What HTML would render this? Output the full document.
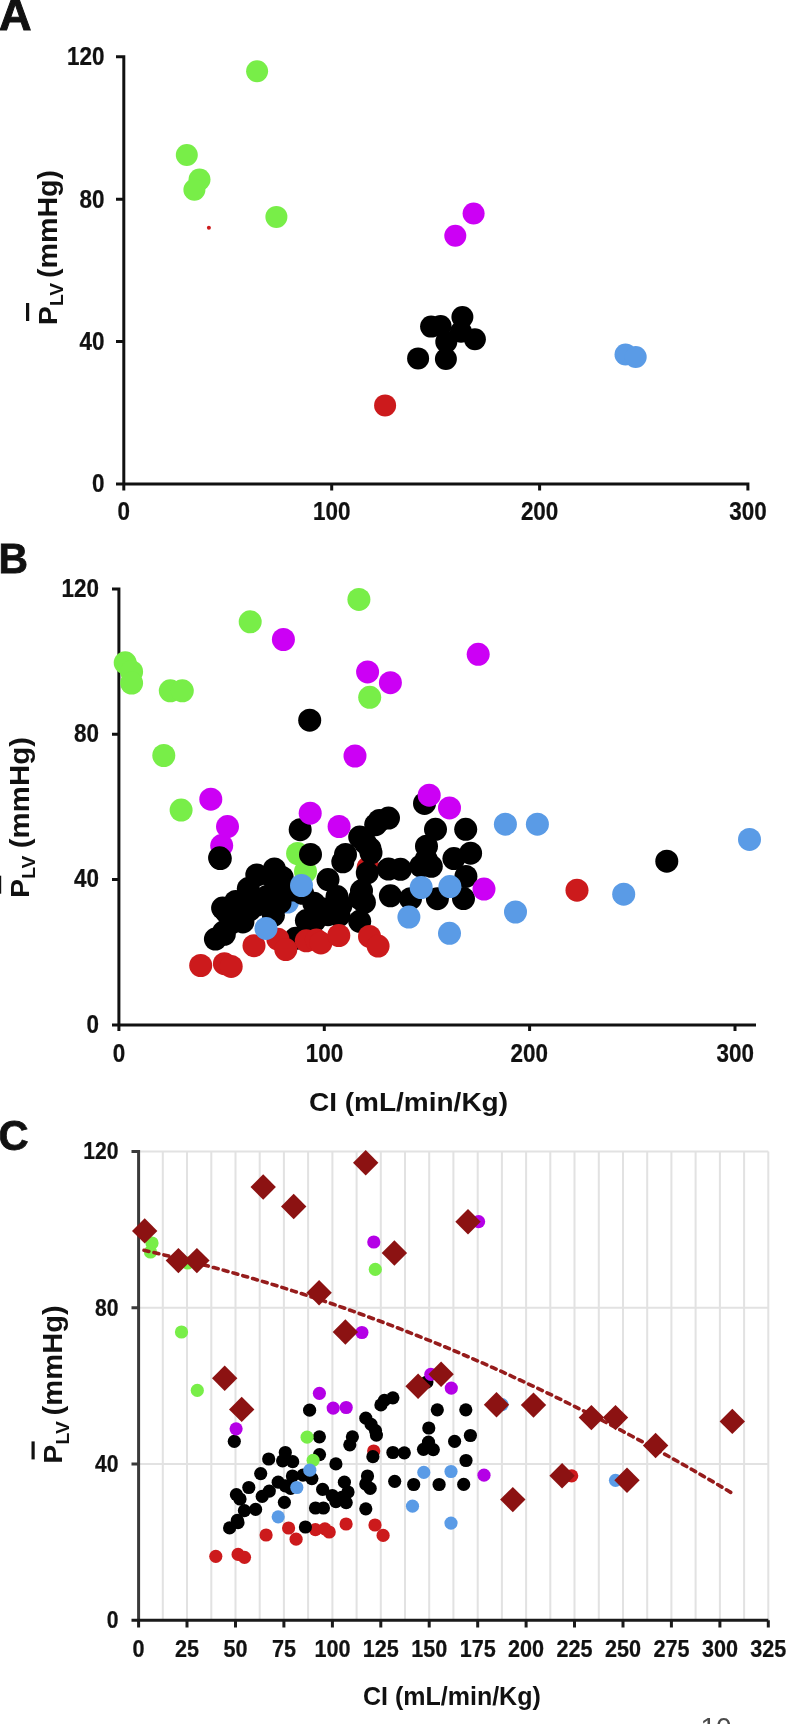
<!DOCTYPE html>
<html><head><meta charset="utf-8"><style>
html,body{margin:0;padding:0;background:#fff;}
svg{display:block;filter:blur(0.45px);}
text{font-family:"Liberation Sans",sans-serif;font-weight:bold;fill:#111;}
</style></head><body>
<svg width="788" height="1724" viewBox="0 0 788 1724">
<rect width="788" height="1724" fill="#fff"/>
<text transform="translate(-1.0,30.3) scale(1.0,1.0)" font-size="45" text-anchor="start" stroke="#111" stroke-width="1">A</text>
<path d="M116,56.8 H123.8 V484 H747.9 V490.5 M123.8,484 V490.5 M331.7,484 V490.5 M539.6,484 V490.5 M116,199.2 H123.8 M116,341.6 H123.8 M116,484 H123.8" stroke="#111" stroke-width="3" fill="none"/>
<text transform="translate(104.5,65.1) scale(0.88,1.0)" font-size="25.5" text-anchor="end" stroke="#111" stroke-width="0.25">120</text>
<text transform="translate(104.5,207.5) scale(0.88,1.0)" font-size="25.5" text-anchor="end" stroke="#111" stroke-width="0.25">80</text>
<text transform="translate(104.5,349.9) scale(0.88,1.0)" font-size="25.5" text-anchor="end" stroke="#111" stroke-width="0.25">40</text>
<text transform="translate(104.5,492.3) scale(0.88,1.0)" font-size="25.5" text-anchor="end" stroke="#111" stroke-width="0.25">0</text>
<text transform="translate(123.8,520.0) scale(0.88,1.0)" font-size="25.5" text-anchor="middle" stroke="#111" stroke-width="0.25">0</text>
<text transform="translate(331.7,520.0) scale(0.88,1.0)" font-size="25.5" text-anchor="middle" stroke="#111" stroke-width="0.25">100</text>
<text transform="translate(539.6,520.0) scale(0.88,1.0)" font-size="25.5" text-anchor="middle" stroke="#111" stroke-width="0.25">200</text>
<text transform="translate(747.9,520.0) scale(0.88,1.0)" font-size="25.5" text-anchor="middle" stroke="#111" stroke-width="0.25">300</text>
<circle cx="257.1" cy="71.2" r="11" fill="rgb(120,238,72)"/>
<circle cx="186.8" cy="155.0" r="11" fill="rgb(120,238,72)"/>
<circle cx="199.5" cy="179.6" r="11" fill="rgb(120,238,72)"/>
<circle cx="194.4" cy="189.7" r="11" fill="rgb(120,238,72)"/>
<circle cx="276.4" cy="216.9" r="11" fill="rgb(120,238,72)"/>
<circle cx="473.6" cy="213.5" r="11" fill="rgb(204,0,245)"/>
<circle cx="455.3" cy="235.8" r="11" fill="rgb(204,0,245)"/>
<circle cx="418.1" cy="358.4" r="11" fill="#000"/>
<circle cx="445.9" cy="359.0" r="11" fill="#000"/>
<circle cx="431.1" cy="326.6" r="11" fill="#000"/>
<circle cx="440.6" cy="326.0" r="11" fill="#000"/>
<circle cx="446.3" cy="341.9" r="11" fill="#000"/>
<circle cx="462.4" cy="317.1" r="11" fill="#000"/>
<circle cx="461.0" cy="331.7" r="11" fill="#000"/>
<circle cx="474.9" cy="339.3" r="11" fill="#000"/>
<circle cx="625.5" cy="354.5" r="11" fill="rgb(90,155,230)"/>
<circle cx="635.7" cy="357.0" r="11" fill="rgb(90,155,230)"/>
<circle cx="385.1" cy="405.4" r="11" fill="rgb(204,26,28)"/>
<circle cx="208.9" cy="227.8" r="2" fill="rgb(204,26,28)"/>
<text transform="translate(-1.5,572.8) scale(0.95,1.0)" font-size="43" text-anchor="start" stroke="#111" stroke-width="0.8">B</text>
<path d="M112,589 H118.9 V1025 H756 M118.9,1025 V1031 M324.3,1025 V1031 M529.6,1025 V1031 M735,1025 V1031 M112,734.3 H118.9 M112,879.6 H118.9 M112,1025 H118.9" stroke="#111" stroke-width="3" fill="none"/>
<text transform="translate(99.0,596.8) scale(0.88,1.0)" font-size="25.5" text-anchor="end" stroke="#111" stroke-width="0.25">120</text>
<text transform="translate(99.0,742.1) scale(0.88,1.0)" font-size="25.5" text-anchor="end" stroke="#111" stroke-width="0.25">80</text>
<text transform="translate(99.0,887.4) scale(0.88,1.0)" font-size="25.5" text-anchor="end" stroke="#111" stroke-width="0.25">40</text>
<text transform="translate(99.0,1032.8) scale(0.88,1.0)" font-size="25.5" text-anchor="end" stroke="#111" stroke-width="0.25">0</text>
<text transform="translate(119.1,1062.0) scale(0.88,1.0)" font-size="25.5" text-anchor="middle" stroke="#111" stroke-width="0.25">0</text>
<text transform="translate(324.5,1062.0) scale(0.88,1.0)" font-size="25.5" text-anchor="middle" stroke="#111" stroke-width="0.25">100</text>
<text transform="translate(529.3,1062.0) scale(0.88,1.0)" font-size="25.5" text-anchor="middle" stroke="#111" stroke-width="0.25">200</text>
<text transform="translate(735.3,1062.0) scale(0.88,1.0)" font-size="25.5" text-anchor="middle" stroke="#111" stroke-width="0.25">300</text>
<text transform="translate(309.0,1110.7) scale(1.12,1.0)" font-size="25" text-anchor="start" >CI (mL/min/Kg)</text>
<circle cx="221.7" cy="845.6" r="11.5" fill="rgb(204,0,245)"/>
<circle cx="368.1" cy="867.6" r="11.5" fill="rgb(204,26,28)"/>
<circle cx="125.2" cy="662.8" r="11.5" fill="rgb(120,238,72)"/>
<circle cx="131.6" cy="671.7" r="11.5" fill="rgb(120,238,72)"/>
<circle cx="131.6" cy="683.1" r="11.5" fill="rgb(120,238,72)"/>
<circle cx="170.3" cy="690.8" r="11.5" fill="rgb(120,238,72)"/>
<circle cx="182.3" cy="690.8" r="11.5" fill="rgb(120,238,72)"/>
<circle cx="250.2" cy="621.8" r="11.5" fill="rgb(120,238,72)"/>
<circle cx="358.9" cy="599.4" r="11.5" fill="rgb(120,238,72)"/>
<circle cx="369.7" cy="697.3" r="11.5" fill="rgb(120,238,72)"/>
<circle cx="163.8" cy="755.5" r="11.5" fill="rgb(120,238,72)"/>
<circle cx="181.1" cy="810.1" r="11.5" fill="rgb(120,238,72)"/>
<circle cx="297.6" cy="853.5" r="11.5" fill="rgb(120,238,72)"/>
<circle cx="305.5" cy="871.5" r="11.5" fill="rgb(120,238,72)"/>
<circle cx="287.5" cy="902.0" r="11.5" fill="rgb(90,155,230)"/>
<circle cx="300.2" cy="829.7" r="11.5" fill="#000"/>
<circle cx="220.3" cy="858.6" r="11.5" fill="#000"/>
<circle cx="310.5" cy="854.4" r="11.5" fill="#000"/>
<circle cx="256.8" cy="875.0" r="11.5" fill="#000"/>
<circle cx="274.4" cy="869.0" r="11.5" fill="#000"/>
<circle cx="271.5" cy="876.7" r="11.5" fill="#000"/>
<circle cx="282.2" cy="877.5" r="11.5" fill="#000"/>
<circle cx="328.0" cy="879.6" r="11.5" fill="#000"/>
<circle cx="248.3" cy="888.6" r="11.5" fill="#000"/>
<circle cx="235.7" cy="901.5" r="11.5" fill="#000"/>
<circle cx="222.6" cy="908.1" r="11.5" fill="#000"/>
<circle cx="226.4" cy="912.2" r="11.5" fill="#000"/>
<circle cx="231.0" cy="923.0" r="11.5" fill="#000"/>
<circle cx="223.5" cy="932.1" r="11.5" fill="#000"/>
<circle cx="215.4" cy="939.1" r="11.5" fill="#000"/>
<circle cx="224.3" cy="934.3" r="11.5" fill="#000"/>
<circle cx="242.9" cy="921.9" r="11.5" fill="#000"/>
<circle cx="249.9" cy="909.8" r="11.5" fill="#000"/>
<circle cx="257.4" cy="904.9" r="11.5" fill="#000"/>
<circle cx="266.9" cy="896.6" r="11.5" fill="#000"/>
<circle cx="274.4" cy="899.9" r="11.5" fill="#000"/>
<circle cx="273.4" cy="915.3" r="11.5" fill="#000"/>
<circle cx="281.9" cy="890.8" r="11.5" fill="#000"/>
<circle cx="280.0" cy="902.4" r="11.5" fill="#000"/>
<circle cx="302.6" cy="893.3" r="11.5" fill="#000"/>
<circle cx="293.2" cy="890.0" r="11.5" fill="#000"/>
<circle cx="313.9" cy="903.2" r="11.5" fill="#000"/>
<circle cx="306.4" cy="920.6" r="11.5" fill="#000"/>
<circle cx="314.8" cy="920.6" r="11.5" fill="#000"/>
<circle cx="324.2" cy="909.0" r="11.5" fill="#000"/>
<circle cx="328.0" cy="914.7" r="11.5" fill="#000"/>
<circle cx="295.7" cy="938.3" r="11.5" fill="#000"/>
<circle cx="375.7" cy="824.7" r="11.5" fill="#000"/>
<circle cx="379.4" cy="820.5" r="11.5" fill="#000"/>
<circle cx="388.5" cy="818.1" r="11.5" fill="#000"/>
<circle cx="359.7" cy="837.1" r="11.5" fill="#000"/>
<circle cx="365.3" cy="842.9" r="11.5" fill="#000"/>
<circle cx="370.0" cy="848.6" r="11.5" fill="#000"/>
<circle cx="371.0" cy="852.8" r="11.5" fill="#000"/>
<circle cx="345.5" cy="854.4" r="11.5" fill="#000"/>
<circle cx="342.8" cy="861.8" r="11.5" fill="#000"/>
<circle cx="367.3" cy="872.9" r="11.5" fill="#000"/>
<circle cx="388.5" cy="869.0" r="11.5" fill="#000"/>
<circle cx="400.5" cy="869.3" r="11.5" fill="#000"/>
<circle cx="426.5" cy="846.2" r="11.5" fill="#000"/>
<circle cx="426.2" cy="859.4" r="11.5" fill="#000"/>
<circle cx="420.9" cy="866.0" r="11.5" fill="#000"/>
<circle cx="431.3" cy="866.3" r="11.5" fill="#000"/>
<circle cx="435.5" cy="829.3" r="11.5" fill="#000"/>
<circle cx="465.7" cy="829.3" r="11.5" fill="#000"/>
<circle cx="453.9" cy="858.6" r="11.5" fill="#000"/>
<circle cx="470.6" cy="853.2" r="11.5" fill="#000"/>
<circle cx="465.9" cy="876.4" r="11.5" fill="#000"/>
<circle cx="463.5" cy="898.6" r="11.5" fill="#000"/>
<circle cx="424.5" cy="803.4" r="11.5" fill="#000"/>
<circle cx="337.0" cy="896.6" r="11.5" fill="#000"/>
<circle cx="340.9" cy="905.7" r="11.5" fill="#000"/>
<circle cx="339.0" cy="915.6" r="11.5" fill="#000"/>
<circle cx="334.3" cy="910.6" r="11.5" fill="#000"/>
<circle cx="361.5" cy="890.8" r="11.5" fill="#000"/>
<circle cx="359.7" cy="898.3" r="11.5" fill="#000"/>
<circle cx="364.4" cy="902.4" r="11.5" fill="#000"/>
<circle cx="359.7" cy="921.3" r="11.5" fill="#000"/>
<circle cx="390.4" cy="895.8" r="11.5" fill="#000"/>
<circle cx="410.5" cy="898.7" r="11.5" fill="#000"/>
<circle cx="437.4" cy="898.7" r="11.5" fill="#000"/>
<circle cx="309.7" cy="720.2" r="11.5" fill="#000"/>
<circle cx="219.6" cy="857.8" r="11.5" fill="#000"/>
<circle cx="666.8" cy="861.2" r="11.5" fill="#000"/>
<circle cx="254.0" cy="945.7" r="11.5" fill="rgb(204,26,28)"/>
<circle cx="277.9" cy="939.2" r="11.5" fill="rgb(204,26,28)"/>
<circle cx="285.8" cy="949.6" r="11.5" fill="rgb(204,26,28)"/>
<circle cx="306.3" cy="940.8" r="11.5" fill="rgb(204,26,28)"/>
<circle cx="316.4" cy="939.9" r="11.5" fill="rgb(204,26,28)"/>
<circle cx="320.9" cy="942.9" r="11.5" fill="rgb(204,26,28)"/>
<circle cx="200.7" cy="965.5" r="11.5" fill="rgb(204,26,28)"/>
<circle cx="224.4" cy="963.7" r="11.5" fill="rgb(204,26,28)"/>
<circle cx="231.2" cy="966.4" r="11.5" fill="rgb(204,26,28)"/>
<circle cx="338.8" cy="935.5" r="11.5" fill="rgb(204,26,28)"/>
<circle cx="369.5" cy="936.4" r="11.5" fill="rgb(204,26,28)"/>
<circle cx="378.1" cy="946.1" r="11.5" fill="rgb(204,26,28)"/>
<circle cx="577.0" cy="890.2" r="11.5" fill="rgb(204,26,28)"/>
<circle cx="283.4" cy="639.5" r="11.5" fill="rgb(204,0,245)"/>
<circle cx="367.6" cy="671.9" r="11.5" fill="rgb(204,0,245)"/>
<circle cx="390.4" cy="682.7" r="11.5" fill="rgb(204,0,245)"/>
<circle cx="355.0" cy="756.0" r="11.5" fill="rgb(204,0,245)"/>
<circle cx="210.8" cy="799.2" r="11.5" fill="rgb(204,0,245)"/>
<circle cx="227.5" cy="826.6" r="11.5" fill="rgb(204,0,245)"/>
<circle cx="310.2" cy="813.2" r="11.5" fill="rgb(204,0,245)"/>
<circle cx="339.1" cy="826.5" r="11.5" fill="rgb(204,0,245)"/>
<circle cx="429.2" cy="795.2" r="11.5" fill="rgb(204,0,245)"/>
<circle cx="449.5" cy="807.9" r="11.5" fill="rgb(204,0,245)"/>
<circle cx="484.0" cy="889.1" r="11.5" fill="rgb(204,0,245)"/>
<circle cx="478.2" cy="654.3" r="11.5" fill="rgb(204,0,245)"/>
<circle cx="505.4" cy="824.2" r="11.5" fill="rgb(90,155,230)"/>
<circle cx="537.4" cy="824.2" r="11.5" fill="rgb(90,155,230)"/>
<circle cx="749.5" cy="839.4" r="11.5" fill="rgb(90,155,230)"/>
<circle cx="623.7" cy="894.2" r="11.5" fill="rgb(90,155,230)"/>
<circle cx="515.5" cy="912.0" r="11.5" fill="rgb(90,155,230)"/>
<circle cx="449.5" cy="933.3" r="11.5" fill="rgb(90,155,230)"/>
<circle cx="408.9" cy="917.1" r="11.5" fill="rgb(90,155,230)"/>
<circle cx="266.0" cy="928.4" r="11.5" fill="rgb(90,155,230)"/>
<circle cx="421.2" cy="887.5" r="11.5" fill="rgb(90,155,230)"/>
<circle cx="449.9" cy="886.6" r="11.5" fill="rgb(90,155,230)"/>
<circle cx="301.5" cy="885.5" r="11.5" fill="rgb(90,155,230)"/>
<text transform="translate(-1.5,1150.0) scale(0.97,1.0)" font-size="43" text-anchor="start" stroke="#111" stroke-width="0.8">C</text>
<path d="M162.8,1151.4 V1620.3 M187.0,1151.4 V1620.3 M211.3,1151.4 V1620.3 M235.5,1151.4 V1620.3 M259.7,1151.4 V1620.3 M283.9,1151.4 V1620.3 M308.1,1151.4 V1620.3 M332.4,1151.4 V1620.3 M356.6,1151.4 V1620.3 M380.8,1151.4 V1620.3 M405.0,1151.4 V1620.3 M429.2,1151.4 V1620.3 M453.4,1151.4 V1620.3 M477.7,1151.4 V1620.3 M501.9,1151.4 V1620.3 M526.1,1151.4 V1620.3 M550.3,1151.4 V1620.3 M574.5,1151.4 V1620.3 M598.8,1151.4 V1620.3 M623.0,1151.4 V1620.3 M647.2,1151.4 V1620.3 M671.4,1151.4 V1620.3 M695.6,1151.4 V1620.3 M719.9,1151.4 V1620.3 M744.1,1151.4 V1620.3 M768.3,1151.4 V1620.3 M138.6,1151.4 H768.3 M138.6,1307.7 H768.3 M138.6,1464.0 H768.3" stroke="#e2e2e2" stroke-width="2" fill="none"/>
<path d="M131.5,1151.4 H138.6 V1620.3 M131.5,1307.7 H138.6 M131.5,1464 H138.6" stroke="#3a3a3a" stroke-width="3" fill="none"/>
<path d="M131.5,1620.3 H768.3 M138.6,1620.3 V1627.4 M187.0,1620.3 V1627.4 M235.5,1620.3 V1627.4 M283.9,1620.3 V1627.4 M332.4,1620.3 V1627.4 M380.8,1620.3 V1627.4 M429.2,1620.3 V1627.4 M477.7,1620.3 V1627.4 M526.1,1620.3 V1627.4 M574.5,1620.3 V1627.4 M623.0,1620.3 V1627.4 M671.4,1620.3 V1627.4 M719.9,1620.3 V1627.4 M768.3,1620.3 V1627.4" stroke="#1a1a1a" stroke-width="3" fill="none"/>
<text transform="translate(118.5,1159.2) scale(0.88,1.0)" font-size="24" text-anchor="end" stroke="#111" stroke-width="0.25">120</text>
<text transform="translate(118.5,1315.5) scale(0.88,1.0)" font-size="24" text-anchor="end" stroke="#111" stroke-width="0.25">80</text>
<text transform="translate(118.5,1471.8) scale(0.88,1.0)" font-size="24" text-anchor="end" stroke="#111" stroke-width="0.25">40</text>
<text transform="translate(118.5,1628.1) scale(0.88,1.0)" font-size="24" text-anchor="end" stroke="#111" stroke-width="0.25">0</text>
<text transform="translate(138.6,1657.0) scale(0.9,1.0)" font-size="24" text-anchor="middle" stroke="#111" stroke-width="0.25">0</text>
<text transform="translate(187.0,1657.0) scale(0.9,1.0)" font-size="24" text-anchor="middle" stroke="#111" stroke-width="0.25">25</text>
<text transform="translate(235.5,1657.0) scale(0.9,1.0)" font-size="24" text-anchor="middle" stroke="#111" stroke-width="0.25">50</text>
<text transform="translate(283.9,1657.0) scale(0.9,1.0)" font-size="24" text-anchor="middle" stroke="#111" stroke-width="0.25">75</text>
<text transform="translate(332.4,1657.0) scale(0.9,1.0)" font-size="24" text-anchor="middle" stroke="#111" stroke-width="0.25">100</text>
<text transform="translate(380.8,1657.0) scale(0.9,1.0)" font-size="24" text-anchor="middle" stroke="#111" stroke-width="0.25">125</text>
<text transform="translate(429.2,1657.0) scale(0.9,1.0)" font-size="24" text-anchor="middle" stroke="#111" stroke-width="0.25">150</text>
<text transform="translate(477.7,1657.0) scale(0.9,1.0)" font-size="24" text-anchor="middle" stroke="#111" stroke-width="0.25">175</text>
<text transform="translate(526.1,1657.0) scale(0.9,1.0)" font-size="24" text-anchor="middle" stroke="#111" stroke-width="0.25">200</text>
<text transform="translate(574.5,1657.0) scale(0.9,1.0)" font-size="24" text-anchor="middle" stroke="#111" stroke-width="0.25">225</text>
<text transform="translate(623.0,1657.0) scale(0.9,1.0)" font-size="24" text-anchor="middle" stroke="#111" stroke-width="0.25">250</text>
<text transform="translate(671.4,1657.0) scale(0.9,1.0)" font-size="24" text-anchor="middle" stroke="#111" stroke-width="0.25">275</text>
<text transform="translate(719.9,1657.0) scale(0.9,1.0)" font-size="24" text-anchor="middle" stroke="#111" stroke-width="0.25">300</text>
<text transform="translate(768.3,1657.0) scale(0.9,1.0)" font-size="24" text-anchor="middle" stroke="#111" stroke-width="0.25">325</text>
<text transform="translate(363.0,1705.0) scale(1.0,1.0)" font-size="25" text-anchor="start" >CI (mL/min/Kg)</text>
<circle cx="373.7" cy="1451.0" r="6.6" fill="rgb(204,26,28)"/>
<circle cx="571.7" cy="1475.8" r="6.6" fill="rgb(204,26,28)"/>
<circle cx="266.1" cy="1535.0" r="6.6" fill="rgb(204,26,28)"/>
<circle cx="288.6" cy="1528.0" r="6.6" fill="rgb(204,26,28)"/>
<circle cx="296.1" cy="1539.2" r="6.6" fill="rgb(204,26,28)"/>
<circle cx="315.4" cy="1529.7" r="6.6" fill="rgb(204,26,28)"/>
<circle cx="324.9" cy="1528.8" r="6.6" fill="rgb(204,26,28)"/>
<circle cx="329.2" cy="1532.0" r="6.6" fill="rgb(204,26,28)"/>
<circle cx="215.8" cy="1556.3" r="6.6" fill="rgb(204,26,28)"/>
<circle cx="238.1" cy="1554.4" r="6.6" fill="rgb(204,26,28)"/>
<circle cx="244.5" cy="1557.3" r="6.6" fill="rgb(204,26,28)"/>
<circle cx="346.1" cy="1524.0" r="6.6" fill="rgb(204,26,28)"/>
<circle cx="375.0" cy="1525.0" r="6.6" fill="rgb(204,26,28)"/>
<circle cx="383.1" cy="1535.4" r="6.6" fill="rgb(204,26,28)"/>
<circle cx="309.6" cy="1410.2" r="6.6" fill="#000"/>
<circle cx="234.3" cy="1441.3" r="6.6" fill="#000"/>
<circle cx="319.4" cy="1436.8" r="6.6" fill="#000"/>
<circle cx="319.5" cy="1454.6" r="6.6" fill="#000"/>
<circle cx="268.7" cy="1459.0" r="6.6" fill="#000"/>
<circle cx="285.3" cy="1452.5" r="6.6" fill="#000"/>
<circle cx="282.6" cy="1460.8" r="6.6" fill="#000"/>
<circle cx="292.7" cy="1461.7" r="6.6" fill="#000"/>
<circle cx="335.9" cy="1463.9" r="6.6" fill="#000"/>
<circle cx="260.7" cy="1473.6" r="6.6" fill="#000"/>
<circle cx="248.8" cy="1487.5" r="6.6" fill="#000"/>
<circle cx="236.4" cy="1494.6" r="6.6" fill="#000"/>
<circle cx="240.0" cy="1499.0" r="6.6" fill="#000"/>
<circle cx="244.4" cy="1510.6" r="6.6" fill="#000"/>
<circle cx="237.3" cy="1520.4" r="6.6" fill="#000"/>
<circle cx="229.6" cy="1527.9" r="6.6" fill="#000"/>
<circle cx="238.0" cy="1522.7" r="6.6" fill="#000"/>
<circle cx="255.6" cy="1509.4" r="6.6" fill="#000"/>
<circle cx="262.2" cy="1496.4" r="6.6" fill="#000"/>
<circle cx="269.3" cy="1491.1" r="6.6" fill="#000"/>
<circle cx="278.2" cy="1482.2" r="6.6" fill="#000"/>
<circle cx="285.3" cy="1485.8" r="6.6" fill="#000"/>
<circle cx="284.4" cy="1502.3" r="6.6" fill="#000"/>
<circle cx="292.4" cy="1476.0" r="6.6" fill="#000"/>
<circle cx="290.6" cy="1488.4" r="6.6" fill="#000"/>
<circle cx="311.9" cy="1478.6" r="6.6" fill="#000"/>
<circle cx="303.0" cy="1475.1" r="6.6" fill="#000"/>
<circle cx="322.6" cy="1489.3" r="6.6" fill="#000"/>
<circle cx="315.5" cy="1508.0" r="6.6" fill="#000"/>
<circle cx="323.4" cy="1508.0" r="6.6" fill="#000"/>
<circle cx="332.3" cy="1495.5" r="6.6" fill="#000"/>
<circle cx="335.9" cy="1501.7" r="6.6" fill="#000"/>
<circle cx="305.4" cy="1527.0" r="6.6" fill="#000"/>
<circle cx="380.9" cy="1404.9" r="6.6" fill="#000"/>
<circle cx="384.4" cy="1400.4" r="6.6" fill="#000"/>
<circle cx="392.9" cy="1397.8" r="6.6" fill="#000"/>
<circle cx="365.8" cy="1418.2" r="6.6" fill="#000"/>
<circle cx="371.1" cy="1424.4" r="6.6" fill="#000"/>
<circle cx="375.5" cy="1430.6" r="6.6" fill="#000"/>
<circle cx="376.4" cy="1435.1" r="6.6" fill="#000"/>
<circle cx="352.4" cy="1436.8" r="6.6" fill="#000"/>
<circle cx="349.8" cy="1444.8" r="6.6" fill="#000"/>
<circle cx="372.9" cy="1456.7" r="6.6" fill="#000"/>
<circle cx="392.9" cy="1452.5" r="6.6" fill="#000"/>
<circle cx="404.3" cy="1452.8" r="6.6" fill="#000"/>
<circle cx="428.8" cy="1428.0" r="6.6" fill="#000"/>
<circle cx="428.5" cy="1442.2" r="6.6" fill="#000"/>
<circle cx="423.5" cy="1449.3" r="6.6" fill="#000"/>
<circle cx="433.3" cy="1449.6" r="6.6" fill="#000"/>
<circle cx="437.3" cy="1409.8" r="6.6" fill="#000"/>
<circle cx="465.8" cy="1409.8" r="6.6" fill="#000"/>
<circle cx="454.6" cy="1441.3" r="6.6" fill="#000"/>
<circle cx="470.4" cy="1435.5" r="6.6" fill="#000"/>
<circle cx="466.0" cy="1460.5" r="6.6" fill="#000"/>
<circle cx="463.7" cy="1484.4" r="6.6" fill="#000"/>
<circle cx="426.9" cy="1382.0" r="6.6" fill="#000"/>
<circle cx="344.4" cy="1482.2" r="6.6" fill="#000"/>
<circle cx="348.0" cy="1492.0" r="6.6" fill="#000"/>
<circle cx="346.2" cy="1502.6" r="6.6" fill="#000"/>
<circle cx="341.8" cy="1497.3" r="6.6" fill="#000"/>
<circle cx="367.5" cy="1476.0" r="6.6" fill="#000"/>
<circle cx="365.8" cy="1484.0" r="6.6" fill="#000"/>
<circle cx="370.2" cy="1488.4" r="6.6" fill="#000"/>
<circle cx="365.8" cy="1508.8" r="6.6" fill="#000"/>
<circle cx="394.7" cy="1481.3" r="6.6" fill="#000"/>
<circle cx="413.7" cy="1484.5" r="6.6" fill="#000"/>
<circle cx="439.1" cy="1484.5" r="6.6" fill="#000"/>
<circle cx="152.0" cy="1243.0" r="6.6" fill="rgb(120,238,72)"/>
<circle cx="150.5" cy="1252.0" r="6.6" fill="rgb(120,238,72)"/>
<circle cx="187.7" cy="1263.0" r="6.6" fill="rgb(120,238,72)"/>
<circle cx="181.5" cy="1332.0" r="6.6" fill="rgb(120,238,72)"/>
<circle cx="197.3" cy="1390.4" r="6.6" fill="rgb(120,238,72)"/>
<circle cx="375.3" cy="1269.4" r="6.6" fill="rgb(120,238,72)"/>
<circle cx="307.1" cy="1437.2" r="6.6" fill="rgb(120,238,72)"/>
<circle cx="313.1" cy="1460.3" r="6.6" fill="rgb(120,238,72)"/>
<circle cx="373.8" cy="1242.0" r="6.6" fill="rgb(180,0,230)"/>
<circle cx="478.6" cy="1221.7" r="6.6" fill="rgb(180,0,230)"/>
<circle cx="361.9" cy="1332.5" r="6.6" fill="rgb(180,0,230)"/>
<circle cx="319.4" cy="1393.3" r="6.6" fill="rgb(180,0,230)"/>
<circle cx="333.2" cy="1408.1" r="6.6" fill="rgb(180,0,230)"/>
<circle cx="346.2" cy="1407.5" r="6.6" fill="rgb(180,0,230)"/>
<circle cx="236.1" cy="1428.8" r="6.6" fill="rgb(180,0,230)"/>
<circle cx="430.8" cy="1374.4" r="6.6" fill="rgb(180,0,230)"/>
<circle cx="451.3" cy="1388.1" r="6.6" fill="rgb(180,0,230)"/>
<circle cx="484.0" cy="1475.2" r="6.6" fill="rgb(180,0,230)"/>
<circle cx="502.0" cy="1404.6" r="6.6" fill="rgb(90,155,230)"/>
<circle cx="309.8" cy="1470.2" r="6.6" fill="rgb(90,155,230)"/>
<circle cx="296.8" cy="1487.5" r="6.6" fill="rgb(90,155,230)"/>
<circle cx="278.2" cy="1516.8" r="6.6" fill="rgb(90,155,230)"/>
<circle cx="423.8" cy="1472.4" r="6.6" fill="rgb(90,155,230)"/>
<circle cx="451.0" cy="1471.5" r="6.6" fill="rgb(90,155,230)"/>
<circle cx="412.5" cy="1506.2" r="6.6" fill="rgb(90,155,230)"/>
<circle cx="451.0" cy="1523.1" r="6.6" fill="rgb(90,155,230)"/>
<circle cx="615.5" cy="1480.3" r="6.6" fill="rgb(90,155,230)"/>
<path d="M144.0,1250.3 L154.0,1252.6 L163.9,1254.9 L173.9,1257.3 L183.9,1259.8 L193.9,1262.3 L203.8,1264.9 L213.8,1267.6 L223.8,1270.3 L233.7,1273.1 L243.7,1275.9 L253.7,1278.8 L263.7,1281.8 L273.6,1284.8 L283.6,1287.9 L293.6,1291.1 L303.5,1294.3 L313.5,1297.6 L323.5,1300.9 L333.5,1304.3 L343.4,1307.8 L353.4,1311.4 L363.4,1315.0 L373.3,1318.7 L383.3,1322.4 L393.3,1326.2 L403.3,1330.1 L413.2,1334.0 L423.2,1338.0 L433.2,1342.0 L443.1,1346.1 L453.1,1350.3 L463.1,1354.6 L473.0,1358.9 L483.0,1363.2 L493.0,1367.7 L503.0,1372.2 L512.9,1376.8 L522.9,1381.4 L532.9,1386.1 L542.8,1390.8 L552.8,1395.6 L562.8,1400.5 L572.8,1405.5 L582.7,1410.5 L592.7,1415.6 L602.7,1420.7 L612.6,1425.9 L622.6,1431.2 L632.6,1436.5 L642.6,1441.9 L652.5,1447.4 L662.5,1452.9 L672.5,1458.5 L682.4,1464.1 L692.4,1469.8 L702.4,1475.6 L712.4,1481.4 L722.3,1487.3 L732.3,1493.3" stroke="rgb(150,28,28)" stroke-width="3.6" stroke-dasharray="5,5.2" stroke-linecap="round" fill="none"/>
<path d="M144.7,1218.2 L157.4,1230.9 L144.7,1243.6 L132.0,1230.9 Z" fill="rgb(140,18,18)"/>
<path d="M178.4,1247.9 L191.1,1260.6 L178.4,1273.3 L165.7,1260.6 Z" fill="rgb(140,18,18)"/>
<path d="M196.9,1247.9 L209.6,1260.6 L196.9,1273.3 L184.2,1260.6 Z" fill="rgb(140,18,18)"/>
<path d="M263.2,1174.3 L275.9,1187.0 L263.2,1199.7 L250.5,1187.0 Z" fill="rgb(140,18,18)"/>
<path d="M293.7,1193.8 L306.4,1206.5 L293.7,1219.2 L281.0,1206.5 Z" fill="rgb(140,18,18)"/>
<path d="M319.1,1280.0 L331.8,1292.7 L319.1,1305.4 L306.4,1292.7 Z" fill="rgb(140,18,18)"/>
<path d="M365.7,1150.1 L378.4,1162.8 L365.7,1175.5 L353.0,1162.8 Z" fill="rgb(140,18,18)"/>
<path d="M394.4,1240.3 L407.1,1253.0 L394.4,1265.7 L381.7,1253.0 Z" fill="rgb(140,18,18)"/>
<path d="M468.0,1209.0 L480.7,1221.7 L468.0,1234.4 L455.3,1221.7 Z" fill="rgb(140,18,18)"/>
<path d="M224.7,1365.5 L237.4,1378.2 L224.7,1390.9 L212.0,1378.2 Z" fill="rgb(140,18,18)"/>
<path d="M241.7,1396.7 L254.4,1409.4 L241.7,1422.1 L229.0,1409.4 Z" fill="rgb(140,18,18)"/>
<path d="M345.4,1319.3 L358.1,1332.0 L345.4,1344.7 L332.7,1332.0 Z" fill="rgb(140,18,18)"/>
<path d="M418.1,1373.6 L430.8,1386.3 L418.1,1399.0 L405.4,1386.3 Z" fill="rgb(140,18,18)"/>
<path d="M441.1,1361.5 L453.8,1374.2 L441.1,1386.9 L428.4,1374.2 Z" fill="rgb(140,18,18)"/>
<path d="M496.5,1392.0 L509.2,1404.7 L496.5,1417.4 L483.8,1404.7 Z" fill="rgb(140,18,18)"/>
<path d="M533.5,1392.4 L546.2,1405.1 L533.5,1417.8 L520.8,1405.1 Z" fill="rgb(140,18,18)"/>
<path d="M591.4,1404.9 L604.1,1417.6 L591.4,1430.3 L578.7,1417.6 Z" fill="rgb(140,18,18)"/>
<path d="M615.5,1404.9 L628.2,1417.6 L615.5,1430.3 L602.8,1417.6 Z" fill="rgb(140,18,18)"/>
<path d="M562.1,1463.1 L574.8,1475.8 L562.1,1488.5 L549.4,1475.8 Z" fill="rgb(140,18,18)"/>
<path d="M655.6,1432.8 L668.3,1445.5 L655.6,1458.2 L642.9,1445.5 Z" fill="rgb(140,18,18)"/>
<path d="M732.3,1408.7 L745.0,1421.4 L732.3,1434.1 L719.6,1421.4 Z" fill="rgb(140,18,18)"/>
<path d="M627.0,1467.6 L639.7,1480.3 L627.0,1493.0 L614.3,1480.3 Z" fill="rgb(140,18,18)"/>
<path d="M512.8,1486.9 L525.5,1499.6 L512.8,1512.3 L500.1,1499.6 Z" fill="rgb(140,18,18)"/>
<text x="716" y="1737.3" font-size="28" text-anchor="middle" style="font-weight:normal;fill:#4a4a4a">10</text>
<g transform="translate(56.5,324) rotate(-90)"><text transform="translate(-1,0) scale(1.08,1)" font-size="26" text-anchor="start">P</text><rect x="3" y="-30.5" width="18" height="3.2" fill="#111"/><text transform="translate(18,6.5) scale(1.1,1)" font-size="17.5" text-anchor="start">LV</text><text transform="translate(46,0) scale(1.06,1)" font-size="27" text-anchor="start">(mmHg)</text></g><g transform="translate(28.5,896.7) rotate(-90)"><text transform="translate(-1,0) scale(1.08,1)" font-size="26" text-anchor="start">P</text><rect x="3" y="-30.5" width="18" height="3.2" fill="#111"/><text transform="translate(18,6.5) scale(1.1,1)" font-size="17.5" text-anchor="start">LV</text><text transform="translate(48.5,0) scale(1.09,1)" font-size="27" text-anchor="start">(mmHg)</text></g><g transform="translate(62,1462.4) rotate(-90)"><text transform="translate(-1,0) scale(1.08,1)" font-size="26" text-anchor="start">P</text><rect x="3" y="-30.5" width="18" height="3.2" fill="#111"/><text transform="translate(18,6.5) scale(1.1,1)" font-size="17.5" text-anchor="start">LV</text><text transform="translate(47,0) scale(1.08,1)" font-size="27" text-anchor="start">(mmHg)</text></g>
</svg>
</body></html>
